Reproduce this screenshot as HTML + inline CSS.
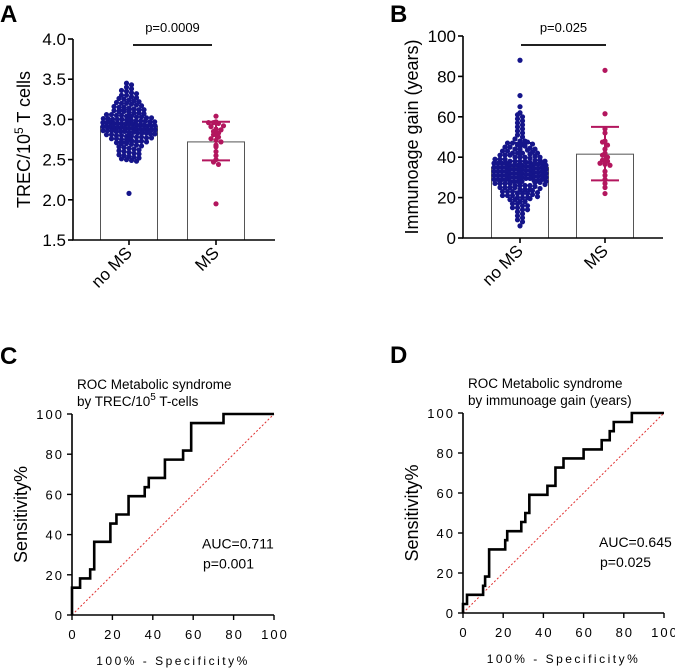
<!DOCTYPE html>
<html><head><meta charset="utf-8"><style>
body{margin:0;background:#fff;}
svg{display:block;font-family:"Liberation Sans",Arial,sans-serif;}
</style></head><body>
<svg id="fig" width="675" height="668" viewBox="0 0 675 668" xmlns="http://www.w3.org/2000/svg">
<g id="pA"></g>
<g id="pB"></g>
<g id="pC"></g>
<g id="pD"></g>
</svg>
<script>
const aNoMS=[3.45,3.43,3.4,3.38,3.36,3.35,3.33,3.32,3.3,3.3,3.28,3.27,3.26,3.25,3.24,3.23,3.22,3.21,3.2,3.2,3.19,3.18,3.17,3.16,3.15,3.15,3.14,3.13,3.12,3.12,3.11,3.1,3.1,3.09,3.08,3.08,3.07,3.06,3.06,3.05,3.05,3.04,3.04,3.03,3.03,3.02,3.02,3.01,3.01,3.0,3.0,3.0,2.99,2.99,2.98,2.98,2.98,2.97,2.97,2.96,2.96,2.96,2.95,2.95,2.95,2.94,2.94,2.94,2.93,2.93,2.93,2.92,2.92,2.92,2.91,2.91,2.91,2.9,2.9,2.9,2.89,2.89,2.89,2.88,2.88,2.88,2.87,2.87,2.87,2.86,2.86,2.86,2.85,2.85,2.85,2.84,2.84,2.83,2.83,2.83,2.82,2.82,2.81,2.81,2.8,2.8,2.79,2.79,2.78,2.78,2.77,2.77,2.76,2.76,2.75,2.75,2.74,2.73,2.73,2.72,2.71,2.7,2.7,2.69,2.68,2.67,2.66,2.65,2.64,2.63,2.62,2.61,2.6,2.59,2.58,2.57,2.56,2.55,2.54,2.53,2.52,2.51,2.5,2.49,2.48,2.08];
const aMS=[3.04,2.97,2.96,2.96,2.95,2.92,2.91,2.88,2.87,2.85,2.83,2.81,2.78,2.76,2.74,2.72,2.68,2.66,2.6,2.55,2.5,2.47,2.44,1.95];
const aMeans=[2.91,2.72];
const aSD=[[2.72,3.12],[2.49,2.97]];
const bNoMS=[88,70.5,65,62,61,60,59,58,57,56,55,54,53,52,51,50,49,48,48,47,47,46,46,45,45,44,44,43,43,42,42,42,41,41,41,40,40,40,39,39,39,38,38,38,38,37,37,37,37,36,36,36,36,35,35,35,35,34,34,34,34,33,33,33,33,32,32,32,32,31,31,31,31,30,30,30,30,29,29,29,29,28,28,28,28,27,27,27,27,26,26,26,26,25,25,25,25,24,24,24,23,23,23,22,22,22,21,21,21,20,20,20,19,19,18,18,17,17,16,16,15,15,14,14,13,12,11,10,9,8,6,
47.5,46.5,45.5,44.5,43.5,42.5,41.5,40.5,39.5,38.5,38.5,37.5,37.5,36.5,36.5,35.5,35.5,34.5,34.5,33.5,33.5,32.5,32.5,31.5,31.5,30.5,30.5,29.5,29.5,28.5,28.5,27.5,27.5,26.5,25.5,24.5,23.5,22.5,21.5,20.5,19.5,44,42,40,38,37,36,35,34,33,32,31,30,29,28];
const bMS=[83,61.5,54,52,48,47.5,46,44,42,41,40,38.5,38,37,36.5,36,33,31,29,27,25,22];
const bMeans=[35,41.5];
const bSD=[[23,47],[28.5,55]];
const aTicks=[1.5,2.0,2.5,3.0,3.5,4.0];
const bTicks=[0,20,40,60,80,100];
const rocTicks=[0,20,40,60,80,100];
const groups=["no MS","MS"];
const cFpr=[0,4,9,11,19,22,28,36,38,46,55,59,75,100];
const cTpr=[13.6,18.2,22.7,36.4,45.5,50,59.1,63.6,68.2,77.3,81.8,95.5,100,100];
const dFpr=[0,2,10,11,13,21,22,29,31,33,42,46,50,60,69,73,75,84,100];
const dTpr=[4.5,9.1,13.6,18.2,31.8,36.4,40.9,45.5,50,59.1,63.6,72.7,77.3,81.8,86.4,90.9,95.5,100,100];

const NS="http://www.w3.org/2000/svg";
function mk(p,tag,at,txt){const e=document.createElementNS(NS,tag);for(const k in at)e.setAttribute(k,at[k]);if(txt!==undefined)e.textContent=txt;p.appendChild(e);return e;}
const BLUE="#15158a",RED="#b3165e";

function swarm(g,vals,cx,halfW,ys,binPx,color,nm){
  const bins={};
  vals.forEach(v=>{const y=ys(v);const k=Math.round(y/binPx);(bins[k]=bins[k]||[]).push(y);});
  for(const k in bins){const arr=bins[k];const n=arr.length;const sp=Math.min(5,(2*halfW)/Math.max(n,1));
    arr.forEach((y,i)=>{const off=(i-(n-1)/2)*sp;
      const c=mk(g,'circle',{cx:cx+off,cy:y,r:2.6,fill:color});
      
      });}
}
function barPanel(g,o){
  const ys=o.ys;
  o.centers.forEach((cx,i)=>{
    const b=mk(g,'rect',{x:cx-28.5,y:ys(o.means[i]),width:57,height:o.y0-ys(o.means[i]),fill:'#fff',stroke:'#555','stroke-width':1});
    
    
  });
  swarm(g,o.v0,o.centers[0],28,ys,4,BLUE,'point-no-ms');
  swarm(g,o.v1,o.centers[1],14,ys,4,RED,'point-ms');
  [[o.centers[0],o.sd[0],BLUE,12],[o.centers[1],o.sd[1],RED,14]].forEach(([cx,sd,col,cw],i)=>{
    const e=mk(g,'path',{d:`M${cx},${ys(sd[0])}V${ys(sd[1])}M${cx-cw},${ys(sd[0])}H${cx+cw}M${cx-cw},${ys(sd[1])}H${cx+cw}`,stroke:col,'stroke-width':2,fill:'none'});
    
    
  });
  const ax=mk(g,'path',{d:`M${o.x0},${o.yTop}V${o.y0}H${o.x1}`,stroke:'#000','stroke-width':1.6,fill:'none'});
  
  
  o.ticks.forEach(t=>{
    mk(g,'line',{x1:o.x0-5,x2:o.x0,y1:ys(t),y2:ys(t),stroke:'#000','stroke-width':1.6});
    const tl=mk(g,'text',{x:o.x0-7,y:ys(t)+6,'text-anchor':'end','font-size':17},o.fmt(t));
    
    
  });
  o.centers.forEach((cx,i)=>{
    mk(g,'line',{x1:cx,x2:cx,y1:o.y0,y2:o.y0+5,stroke:'#000','stroke-width':1.6});
    const xl=mk(g,'text',{x:cx+4,y:o.y0+14,'text-anchor':'end','font-size':17,transform:`rotate(-45 ${cx+4} ${o.y0+14})`},groups[i]);
    
    
  });
  const yt=mk(g,'text',{x:o.ytx,y:(o.yTop+o.y0)/2,'text-anchor':'middle','font-size':18,transform:`rotate(-90 ${o.ytx} ${(o.yTop+o.y0)/2})`});
  
  
  if(o.sup){yt.appendChild(document.createTextNode('TREC/10'));mk(yt,'tspan',{'font-size':12,dy:-7},'5');mk(yt,'tspan',{dy:7},' T cells');}
  else yt.textContent=o.ytitle;
  const sl=mk(g,'line',{x1:o.sig[0],x2:o.sig[1],y1:45,y2:45,stroke:'#000','stroke-width':1.8});
  
  
  const st=mk(g,'text',{x:(o.sig[0]+o.sig[1])/2,y:32,'text-anchor':'middle','font-size':13},o.p);
  
  
  const pl=mk(g,'text',{x:o.lx,y:22,'font-size':24,'font-weight':'bold'},o.letter);
  
  
}
barPanel(document.getElementById('pA'),{ys:v=>240-(v-1.5)/2.5*201,y0:240,yTop:39,x0:73,x1:275,centers:[129,216],
  means:aMeans,sd:aSD,v0:aNoMS,v1:aMS,ticks:aTicks,fmt:t=>t.toFixed(1),ytx:30,sup:true,sig:[133,212],p:'p=0.0009',letter:'A',lx:0});
barPanel(document.getElementById('pB'),{ys:v=>238-v*2.02,y0:238,yTop:36,x0:463,x1:663,centers:[520,605],
  means:bMeans,sd:bSD,v0:bNoMS,v1:bMS,ticks:bTicks,fmt:t=>String(t),ytx:418,ytitle:'Immunoage gain (years)',sig:[521,606],p:'p=0.025',letter:'B',lx:390});

function rocPanel(g,o){
  const xs=f=>o.x0+f*(o.x1-o.x0)/100, ys=t=>o.y0-t*(o.y0-o.y1)/100;
  const ref=mk(g,'line',{x1:xs(0),y1:ys(0),x2:xs(100),y2:ys(100),stroke:'#e03030','stroke-width':1,'stroke-dasharray':'2,2'});
  
  
  let d=`M${xs(0)},${ys(0)}`;
  o.fpr.forEach((f,i)=>{d+=`H${xs(f)}V${ys(o.tpr[i])}`;});
  const c=mk(g,'path',{d:d,stroke:'#000','stroke-width':2.6,fill:'none'});
  
  
  const ax=mk(g,'path',{d:`M${o.x0},${o.y1}V${o.y0}H${o.x1}`,stroke:'#000','stroke-width':1.6,fill:'none'});
  
  
  rocTicks.forEach(t=>{
    mk(g,'line',{x1:o.x0-5,x2:o.x0,y1:ys(t),y2:ys(t),stroke:'#000','stroke-width':1.4});
    const yl=mk(g,'text',{x:o.x0-8,y:ys(t)+5,'text-anchor':'end','font-size':13,'letter-spacing':2},String(t));
    
    
    mk(g,'line',{x1:xs(t),x2:xs(t),y1:o.y0,y2:o.y0+5,stroke:'#000','stroke-width':1.4});
    const xl=mk(g,'text',{x:xs(t)+1,y:o.y0+24,'text-anchor':'middle','font-size':13,'letter-spacing':2},String(t));
    
    
  });
  const xt=mk(g,'text',{x:(o.x0+o.x1)/2,y:o.y0+50,'text-anchor':'middle','font-size':12,'letter-spacing':2.5},'100% - Specificity%');
  
  
  const ym=(o.y0+o.y1)/2;
  const yt=mk(g,'text',{x:o.x0-45,y:ym,'text-anchor':'middle','font-size':18,transform:`rotate(-90 ${o.x0-45} ${ym})`},'Sensitivity%');
  
  
  const t1=mk(g,'text',{x:o.x0+5,y:o.y1-25,'font-size':13.5},'ROC Metabolic syndrome');
  
  
  const t2=mk(g,'text',{x:o.x0+5,y:o.y1-8,'font-size':13.5});
  
  
  if(o.sup){t2.appendChild(document.createTextNode('by TREC/10'));mk(t2,'tspan',{'font-size':10,dy:-6},'5');mk(t2,'tspan',{dy:6},' T-cells');}
  else t2.textContent=o.sub;
  const a=mk(g,'text',{x:o.ax,y:ys(33),'font-size':14},o.auc);
  
  
  const p=mk(g,'text',{x:o.ax+1,y:ys(33)+20,'font-size':14},o.p);
  
  
  const pl=mk(g,'text',{x:o.lx,y:o.y1-50,'font-size':24,'font-weight':'bold'},o.letter);
  
  
}
rocPanel(document.getElementById('pC'),{x0:72,x1:274,y0:615,y1:414,fpr:cFpr,tpr:cTpr,sup:true,auc:'AUC=0.711',p:'p=0.001',ax:202,letter:'C',lx:0});
rocPanel(document.getElementById('pD'),{x0:463,x1:664,y0:613,y1:413,fpr:dFpr,tpr:dTpr,sub:'by immunoage gain (years)',auc:'AUC=0.645',p:'p=0.025',ax:599,letter:'D',lx:390});
</script>
</body></html>
